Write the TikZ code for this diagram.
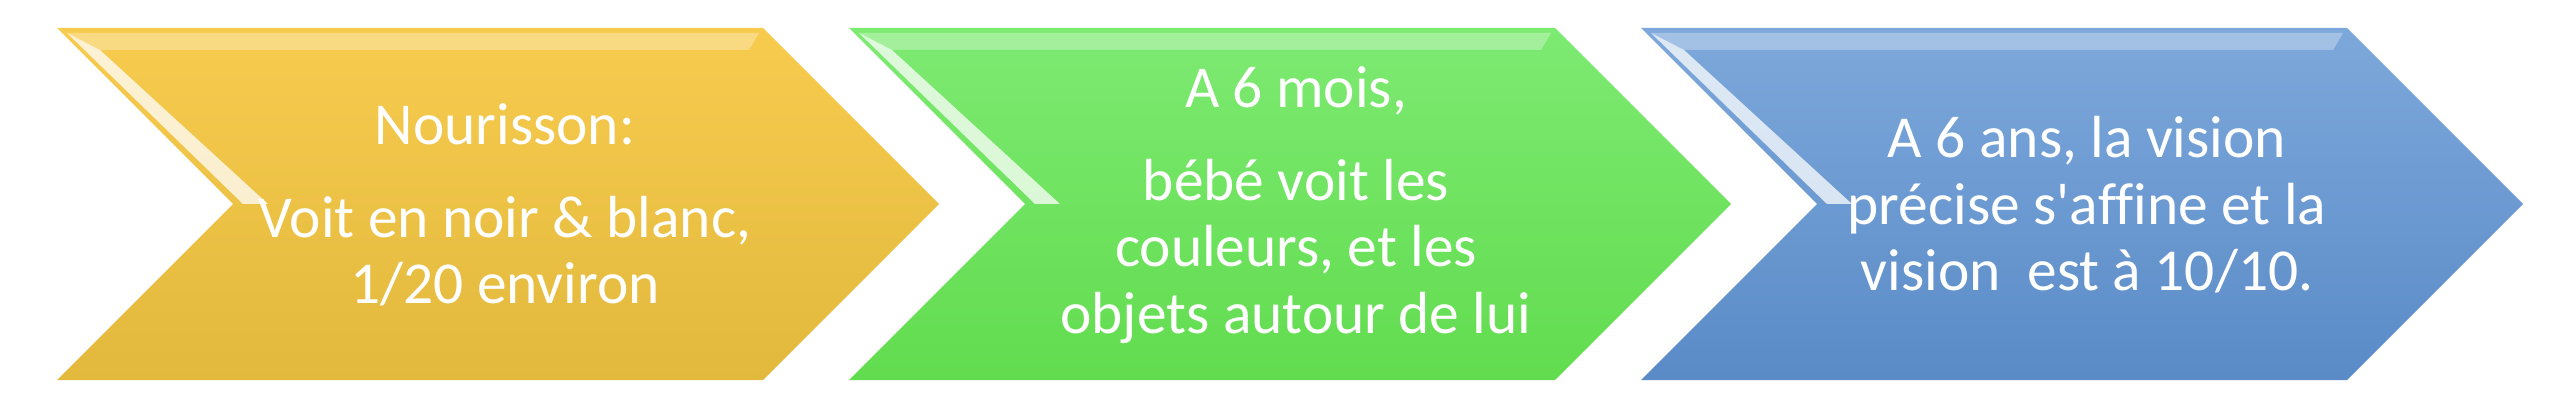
\documentclass[tikz,border=0pt]{standalone}
\usepackage{fontspec}
\setmainfont[Ligatures=NoCommon]{Carlito}
\definecolor{jauneH}{HTML}{F7CB4E}
\definecolor{jauneB}{HTML}{E2B93D}
\definecolor{vertH}{HTML}{7DEA72}
\definecolor{vertB}{HTML}{62DC4F}
\definecolor{bleuH}{HTML}{7DA8DB}
\definecolor{bleuB}{HTML}{5A8BC7}
\tikzset{stagetext/.style={text=white,align=center,inner sep=0pt,font=\fontsize{16.9}{18.9}\selectfont},
  reflet/.style={fill=white,opacity=0.75},
  bandeau/.style={fill=white,opacity=0.3}}

\begin{document}
\begin{tikzpicture}[x=0.01cm,y=0.01cm]
      \useasboundingbox (0,0) rectangle (2560,418);

      % chevrons
      \shade[top color=jauneH,bottom color=jauneB] (57,390) -- (763,390) -- (939,214) -- (763,38) -- (57,38) -- (233,214) -- cycle;
      \shade[top color=vertH,bottom color=vertB] (849,390) -- (1555,390) -- (1731,214) -- (1555,38) -- (849,38) -- (1025,214) -- cycle;
      \shade[top color=bleuH,bottom color=bleuB] (1641,390) -- (2347,390) -- (2523,214) -- (2347,38) -- (1641,38) -- (1817,214) -- cycle;

      % reflets
      \fill[bandeau] (67,385) -- (759,385) -- (749,368) -- (100,368) -- cycle;
      \fill[reflet] (67,385) -- (100,368) -- (268,214) -- (243,214) -- cycle;
      \fill[bandeau] (859,385) -- (1551,385) -- (1541,368) -- (892,368) -- cycle;
      \fill[reflet] (859,385) -- (892,368) -- (1060,214) -- (1035,214) -- cycle;
      \fill[bandeau] (1651,385) -- (2343,385) -- (2333,368) -- (1684,368) -- cycle;
      \fill[reflet] (1651,385) -- (1684,368) -- (1852,214) -- (1827,214) -- cycle;

      \node[stagetext] (nourrisson) at (505,213) {Nourisson:\\[7.5pt]Voit en noir \& blanc,\\1/20 environ};
      \node[stagetext] (sixmois) at (1296,213) {A 6 mois,\\[7.5pt]bébé voit les\\couleurs, et les\\objets autour de lui};
      \node[stagetext] (sixans) at (2087,213) {A 6 ans, la vision\\précise s\textquotesingle affine et la\\vision\ \ est à 10/10.};
    \end{tikzpicture}
\end{document}
